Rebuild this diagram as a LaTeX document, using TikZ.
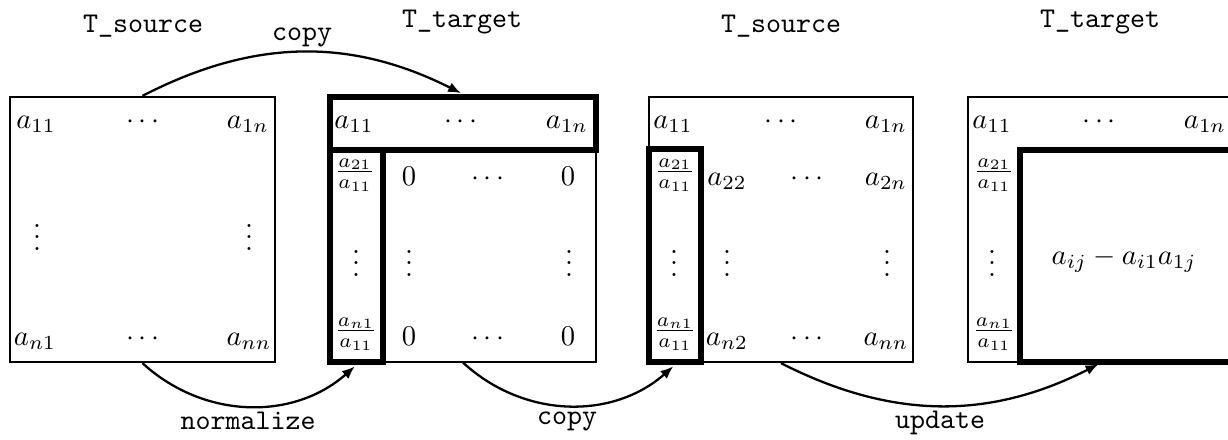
\documentclass[tikz,border=0pt]{standalone}
\usetikzlibrary{arrows.meta,fit}
\begin{document}
\begin{tikzpicture}[x=0.35pt, y=-0.35pt,
  thinbox/.style={draw, line width=0.8pt, inner sep=0pt},
  thickbox/.style={draw, line width=2pt, inner sep=0pt},
  frame/.style={inner sep=0pt},
  entry/.style={anchor=base, inner sep=0pt},
  cell/.style={inner sep=0pt},
  title/.style={anchor=base, inner sep=0pt, font=\ttfamily},
  flow/.style={-{Latex[length=4.5pt,width=3.6pt]}, line width=0.8pt, shorten >=0.8pt},
]
\useasboundingbox (0,0) rectangle (1228,439);

% ---- first matrix: T_source ----
\node[thinbox, fit={(10,97) (275,362)}] (A) {};
\node[entry] (A11) at (36,128) {$a_{11}$};
\node[entry] (A1d) at (143,128) {$\cdots$};
\node[entry] (A1n) at (248,128) {$a_{1n}$};
\node[entry] (Av1) at (37,250) {$\vdots$};
\node[entry] (Av2) at (249,250) {$\vdots$};
\node[entry] (An1) at (35,345) {$a_{n1}$};
\node[entry] (And) at (143,345) {$\cdots$};
\node[entry] (Ann) at (249,345) {$a_{nn}$};

% ---- second matrix: T_target after normalisation ----
\node[thickbox, fit={(330,97) (596,150)}] (Btop) {};
\node[thinbox, fit={(383,150) (596,362)}] (Bblk) {};
\node[thickbox, fit={(330,150) (383,362)}] (Bcol) {};
\node[frame, fit={(330,97) (596,362)}] (B) {};
\node[entry] (B11) at (354,128) {$a_{11}$};
\node[entry] (B1d) at (461,128) {$\cdots$};
\node[entry] (B1n) at (567,128) {$a_{1n}$};
\node[cell]  (B21) at (355,175) {$\frac{a_{21}}{a_{11}}$};
\node[entry] (B22) at (409,185) {$0$};
\node[entry] (B2d) at (488,185) {$\cdots$};
\node[entry] (B2n) at (568,185) {$0$};
\node[entry] (Bv1) at (356,276) {$\vdots$};
\node[entry] (Bv2) at (409,276) {$\vdots$};
\node[entry] (Bv3) at (569,276) {$\vdots$};
\node[cell]  (Bn1) at (356,334) {$\frac{a_{n1}}{a_{11}}$};
\node[entry] (Bn2) at (409,345) {$0$};
\node[entry] (Bnd) at (488,345) {$\cdots$};
\node[entry] (Bnn) at (568,345) {$0$};

% ---- third matrix: T_source with the pivot column ----
\node[thinbox, fit={(649,97) (913,362)}] (C) {};
\node[thickbox, fit={(649,149) (701,362)}] (Ccol) {};
\node[entry] (C11) at (673,128) {$a_{11}$};
\node[entry] (C1d) at (781,128) {$\cdots$};
\node[entry] (C1n) at (886,128) {$a_{1n}$};
\node[cell]  (C21) at (675,175) {$\frac{a_{21}}{a_{11}}$};
\node[entry] (C22) at (727,185) {$a_{22}$};
\node[entry] (C2d) at (807,185) {$\cdots$};
\node[entry] (C2n) at (886,185) {$a_{2n}$};
\node[entry] (Cv1) at (674,276) {$\vdots$};
\node[entry] (Cv2) at (727,276) {$\vdots$};
\node[entry] (Cv3) at (887,276) {$\vdots$};
\node[cell]  (Cn1) at (675,334) {$\frac{a_{n1}}{a_{11}}$};
\node[entry] (Cn2) at (727,345) {$a_{n2}$};
\node[entry] (Cnd) at (807,345) {$\cdots$};
\node[entry] (Cnn) at (886,345) {$a_{nn}$};

% ---- fourth matrix: T_target after the update ----
\node[thinbox, fit={(968,97) (1233,362)}] (D) {};
\node[thickbox, fit={(1020,150) (1233,362)}] (Dblk) {};
\node[entry] (D11) at (992,128) {$a_{11}$};
\node[entry] (D1d) at (1099,128) {$\cdots$};
\node[entry] (D1n) at (1205,128) {$a_{1n}$};
\node[cell]  (D21) at (994,175) {$\frac{a_{21}}{a_{11}}$};
\node[entry] (Dv1) at (992,276) {$\vdots$};
\node[cell]  (Dn1) at (994,334) {$\frac{a_{n1}}{a_{11}}$};
\node[cell]  (Dup) at (1124,260) {$a_{ij}-a_{i1}a_{1j}$};

% ---- titles and step labels ----
\node[title] (Lsrc1) at (143,32) {T\_source};
\node[title] (Ltgt1) at (462,27) {T\_target};
\node[title] (Lsrc2) at (781,32) {T\_source};
\node[title] (Ltgt2) at (1100,27) {T\_target};
\node[title] (Lcopy1) at (302,40) {copy};
\node[title] (Lnorm) at (248,429) {normalize};
\node[title] (Lcopy2) at (567,424) {copy};
\node[title] (Lupd) at (940,428) {update};

% ---- steps ----
\draw[flow] (A.north) to[bend left=27] (Btop.north);
\draw[flow] (A.south) to[bend right=42] (Bcol.south);
\draw[flow] (B.south) to[bend right=42] (Ccol.south);
\draw[flow] (C.south) to[bend right=27] (D.south);
\end{tikzpicture}
\end{document}
